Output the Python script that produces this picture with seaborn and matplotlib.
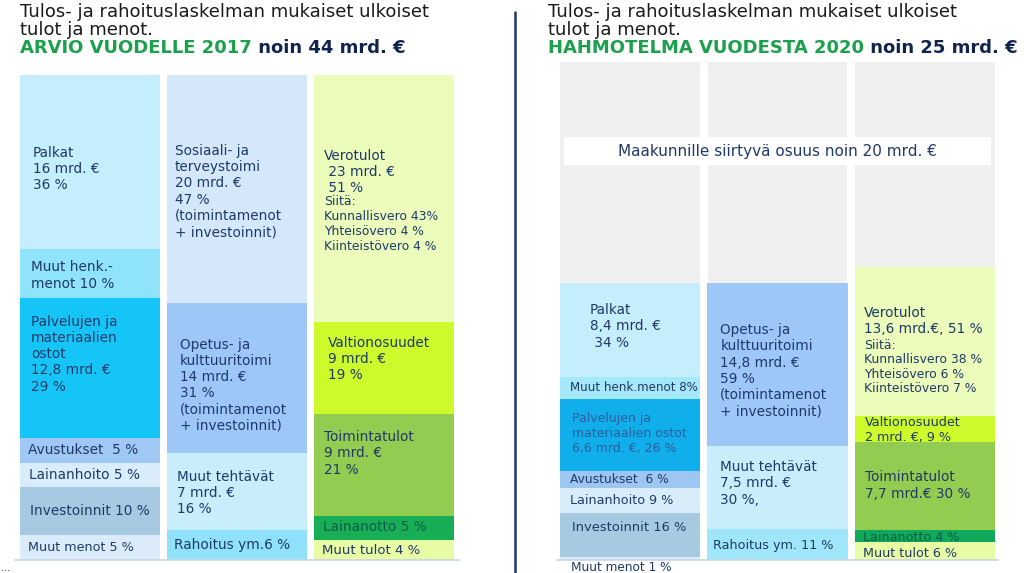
import numpy as np
import matplotlib
matplotlib.use("Agg")
import matplotlib.pyplot as plt
from matplotlib.lines import Line2D
from matplotlib.patches import Rectangle
import seaborn as sns

# --- data ---------------------------------------------------------------
sarakkeet = ["Menot", "Tehtävät", "Tulot"]

# 2017: osuudet (%) sarakkeittain, ylhäältä alas
menot_2017 = [36, 10, 29, 5, 5, 10, 5]
tehtavat_2017 = [47, 31, 16, 6]
tulot_2017 = [51, 19, 21, 5, 4]

# 2020: osuudet (%) sarakkeittain, ylhäältä alas
menot_2020 = [34, 8, 26, 6, 9, 16, 1]
tehtavat_2020 = [59, 30, 11]
tulot_2020 = [51, 9, 30, 4, 6]

kokonais_2020 = [25, 25, 26.5]   # mrd. €
siirtyva_2020 = 20               # mrd. € maakunnille

tekstit_menot_2017 = ["Palkat\n16 mrd. €\n36 %", "Muut henk.-\nmenot 10 %",
                      "Palvelujen ja\nmateriaalien\nostot\n12,8 mrd. €\n29 %",
                      "Avustukset  5 %", "Lainanhoito 5 %", "Investoinnit 10 %",
                      "Muut menot 5 %"]
tekstit_tehtavat_2017 = ["Sosiaali- ja\nterveystoimi\n20 mrd. €\n47 %\n(toimintamenot\n+ investoinnit)",
                         "Opetus- ja\nkulttuuritoimi\n14 mrd. €\n31 %\n(toimintamenot\n+ investoinnit)",
                         "Muut tehtävät\n7 mrd. €\n16 %", "Rahoitus ym.6 %"]
tekstit_tulot_2017 = ["Verotulot\n 23 mrd. €\n 51 %", "Valtionosuudet\n9 mrd. €\n19 %",
                      "Toimintatulot\n9 mrd. €\n21 %", "Lainanotto 5 %", "Muut tulot 4 %"]
siita_2017 = "Siitä:\nKunnallisvero 43%\nYhteisövero 4 %\nKiinteistövero 4 %"

tekstit_menot_2020 = ["Palkat\n8,4 mrd. €\n 34 %", "Muut henk.menot 8%",
                      "Palvelujen ja\nmateriaalien ostot\n6,6 mrd. €, 26 %",
                      "Avustukset  6 %", "Lainanhoito 9 %", "Investoinnit 16 %",
                      "Muut menot 1 %"]
tekstit_tehtavat_2020 = ["Opetus- ja\nkulttuuritoimi\n14,8 mrd. €\n59 %\n(toimintamenot\n+ investoinnit)",
                         "Muut tehtävät\n7,5 mrd. €\n30 %,", "Rahoitus ym. 11 %"]
tekstit_tulot_2020 = ["Verotulot\n13,6 mrd.€, 51 %", "Valtionosuudet\n2 mrd. €, 9 %",
                      "Toimintatulot\n7,7 mrd.€ 30 %", "Lainanotto 4 %", "Muut tulot 6 %"]
siita_2020 = "Siitä:\nKunnallisvero 38 %\nYhteisövero 6 %\nKiinteistövero 7 %"

# --- styles -------------------------------------------------------------
NAVY = "#1f3a68"
GREEN = "#1ba04c"
W = 0.952

varit_menot_2017 = ["#c4eefc", "#8fe3fb", "#16c5f7", "#a0c8f5", "#d9ecfa", "#a6cae2", "#dcebf9"]
varit_tehtavat_2017 = ["#d5e7fb", "#9dc7f7", "#c8eefc", "#90e2fb"]
varit_tulot_2017 = ["#ebfcbb", "#cdfa2a", "#92cd52", "#18ae55", "#e8fba5"]
varit_menot_2020 = ["#c4eefc", "#a6e8fb", "#10aeeb", "#9ec6f3", "#d9ecfa", "#a6cae2", "#dcebf9"]
varit_tehtavat_2020 = ["#9dc7f7", "#c8eefc", "#a0e6fb"]
varit_tulot_2020 = ["#ebfcbb", "#cdfa2a", "#92cd52", "#10a85a", "#e8fba5"]

# (dx px, dy px from segment top, font size)
paikat_menot_2017 = [(13, 71, 9.8), (11, 11, 9.8), (11, 17, 9.8), (8, 5, 9.8),
                     (9, 5, 9.8), (10, 17, 9.8), (8, 6, 9.2)]
paikat_tehtavat_2017 = [(8, 69, 9.8), (13, 35, 9.8), (10, 17, 9.8), (7, 8, 9.8)]
paikat_tulot_2017 = [(10, 74, 9.8), (14, 14, 9.8), (10, 16, 9.8), (9, 4, 9.8), (8, 4, 9.5)]
paikat_menot_2020 = [(30, 20, 9.8), (10, 4, 8.6), (12, 13, 9.0), (10, 2, 8.8),
                     (10, 6, 9.2), (12, 8, 9.4), (11, 4, 8.7)]
paikat_tehtavat_2020 = [(13, 40, 9.8), (13, 14, 9.8), (6, 10, 9.2)]
paikat_tulot_2020 = [(9, 39, 9.8), (10, 0, 9.2), (10, 28, 9.8), (8, 1, 9.2), (8, 5, 9.2)]

tekstivarit_2017 = {("Tulot", 3): "#0b5e4a"}
tekstivarit_2020 = {("Menot", 2): "#2a5f9e", ("Tulot", 3): "#0b5e4a"}

sns.set_theme(style="white")
plt.rcParams["font.family"] = ["DejaVu Sans"]

fig = plt.figure(figsize=(10.24, 5.73), dpi=100)
FW, FH = 1024, 573


def px_axes(x0, y0, x1, y1):
    return fig.add_axes([x0 / FW, 1 - y1 / FH, (x1 - x0) / FW, (y1 - y0) / FH])


def piirra_pino(ax, nimi, arvot, varit, skaala=1.0):
    # segment tops, listed top -> bottom; draw tallest first so lower ones overlay
    tops = np.cumsum(np.array(arvot, dtype=float)[::-1])[::-1] * skaala
    for top, vari in zip(tops, varit):
        sns.barplot(x=[nimi], y=[top], order=sarakkeet, color=vari, width=W,
                    saturation=1, errorbar=None, linewidth=0, ax=ax)
    return tops


def merkitse(ax, i, tops, tekstit, paikat, vari_map, nimi):
    for k, (teksti, (dx, dy, fs)) in enumerate(zip(tekstit, paikat)):
        c = vari_map.get((nimi, k), NAVY)
        ax.annotate(teksti, xy=(i - W / 2, tops[k]), xycoords="data",
                    xytext=(dx * 0.72, -dy * 0.72), textcoords="offset points",
                    ha="left", va="top", fontsize=fs, color=c, linespacing=1.2,
                    annotation_clip=False)


# --- 2017 -----------------------------------------------------------------
ax1 = px_axes(20, 75, 454, 559.5)
data_2017 = [menot_2017, tehtavat_2017, tulot_2017]
varit_2017 = [varit_menot_2017, varit_tehtavat_2017, varit_tulot_2017]
tekstit_2017 = [tekstit_menot_2017, tekstit_tehtavat_2017, tekstit_tulot_2017]
paikat_2017 = [paikat_menot_2017, paikat_tehtavat_2017, paikat_tulot_2017]
for i, nimi in enumerate(sarakkeet):
    tops = piirra_pino(ax1, nimi, data_2017[i], varit_2017[i])
    merkitse(ax1, i, tops, tekstit_2017[i], paikat_2017[i], tekstivarit_2017, nimi)
    if nimi == "Tulot":
        ax1.annotate(siita_2017, xy=(i - W / 2, tops[0]), xytext=(10 * 0.72, -120 * 0.72),
                     textcoords="offset points", ha="left", va="top", fontsize=8.9,
                     color=NAVY, linespacing=1.2)
ax1.set_xlim(-0.476, 2.476)
ax1.set_ylim(0, 100)
ax1.axhline(0, xmin=-0.012, xmax=1.012, color="#c9d5e4", lw=1.2, clip_on=False)
ax1.set_axis_off()

# --- 2020 -----------------------------------------------------------------
ax2 = px_axes(560, 62, 995, 559.5)
koko = max(kokonais_2020[:2]) + siirtyva_2020
sns.barplot(x=sarakkeet, y=[koko] * 3, order=sarakkeet, color="#f0f0f0", width=0.949,
            saturation=1, errorbar=None, linewidth=0, ax=ax2)
data_2020 = [menot_2020, tehtavat_2020, tulot_2020]
varit_2020 = [varit_menot_2020, varit_tehtavat_2020, varit_tulot_2020]
tekstit_2020 = [tekstit_menot_2020, tekstit_tehtavat_2020, tekstit_tulot_2020]
paikat_2020 = [paikat_menot_2020, paikat_tehtavat_2020, paikat_tulot_2020]
for i, nimi in enumerate(sarakkeet):
    tops = piirra_pino(ax2, nimi, data_2020[i], varit_2020[i], kokonais_2020[i] / 100)
    merkitse(ax2, i, tops, tekstit_2020[i], paikat_2020[i], tekstivarit_2020, nimi)
    if nimi == "Tulot":
        ax2.annotate(siita_2020, xy=(i - W / 2, tops[0]), xytext=(9 * 0.72, -72 * 0.72),
                     textcoords="offset points", ha="left", va="top", fontsize=8.9,
                     color=NAVY, linespacing=1.15)
ax2.set_xlim(-0.475, 2.475)
ax2.set_ylim(0, koko)
ax2.add_patch(Rectangle((0.009, 0.792), 0.982, 0.057, transform=ax2.transAxes,
                        facecolor="white", edgecolor="none", zorder=5))
ax2.text(0.5, 0.8205, "Maakunnille siirtyvä osuus noin 20 mrd. €", transform=ax2.transAxes,
         ha="center", va="center", fontsize=11, color=NAVY, zorder=6)
ax2.axhline(0, xmin=-0.007, xmax=1.007, color="#c9d5e4", lw=1.2, clip_on=False)
ax2.set_axis_off()


# --- titles ---------------------------------------------------------------
def otsikko(x, vihrea, loppu):
    fs = 13
    fig.text(x / FW, 1 - 17 / FH, "Tulos- ja rahoituslaskelman mukaiset ulkoiset",
             ha="left", va="baseline", fontsize=fs, color="#1a1a1a")
    fig.text(x / FW, 1 - 35 / FH, "tulot ja menot.",
             ha="left", va="baseline", fontsize=fs, color="#1a1a1a")
    t = fig.text(x / FW, 1 - 53 / FH, vihrea, ha="left", va="baseline", fontsize=fs,
                 fontweight="bold", color=GREEN)
    ax1.annotate(loppu, xy=(1, 0), xycoords=t, ha="left", va="bottom", fontsize=fs,
                 fontweight="bold", color="#0f2350", annotation_clip=False)


otsikko(20, "ARVIO VUODELLE 2017", " noin 44 mrd. €")
otsikko(548, "HAHMOTELMA VUODESTA 2020", " noin 25 mrd. €")

fig.add_artist(Line2D([515 / FW, 515 / FW], [0, 1 - 12 / FH], color="#1f3864", lw=1.8))
fig.text(1 / FW, 0, "...", fontsize=7, color="#333333", ha="left", va="bottom")

fig.savefig("out.png", dpi=100)
